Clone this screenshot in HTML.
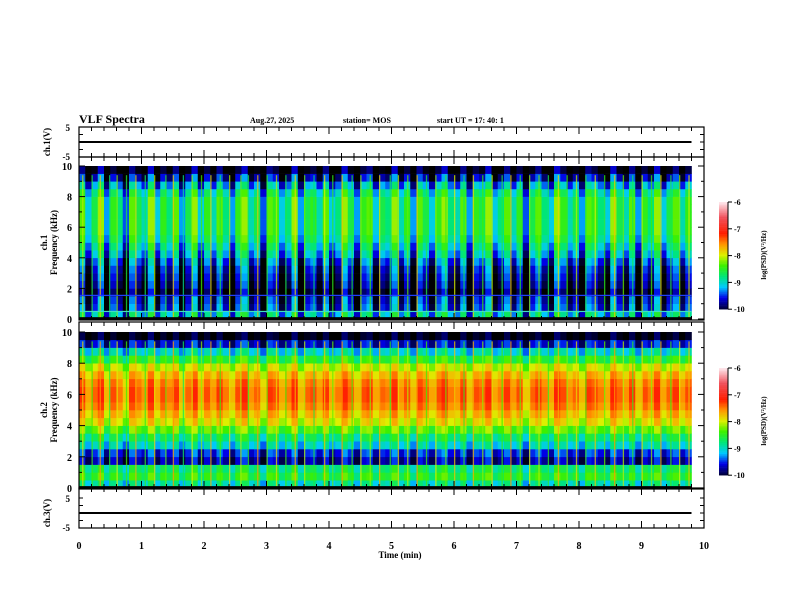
<!DOCTYPE html>
<html><head><meta charset="utf-8"><style>
body{margin:0;background:#fff;}
svg{display:block;font-family:"Liberation Serif",serif;font-weight:bold;}
</style></head><body>
<svg id="c" width="792" height="612" viewBox="0 0 792 612" xmlns="http://www.w3.org/2000/svg"></svg>
<script>
// ---- data ----
const freqBins1 = [0.25,0.75,1.25,1.75,2.25,2.75,3.25,3.75,4.25,4.75,5.25,5.75,6.25,6.75,7.25,7.75,8.25,8.75,9.25,9.75];
const profile1 = [-9.2,-9.7,-9.8,-10.2,-10.0,-9.9,-9.8,-9.6,-9.3,-9.1,-8.9,-8.8,-8.8,-8.8,-8.8,-8.8,-9.0,-9.4,-9.9,-10.3];
const profile2 = [-9.0,-8.6,-8.8,-9.8,-9.6,-9.1,-8.8,-8.4,-8.0,-7.8,-7.6,-7.5,-7.5,-7.6,-7.8,-8.1,-8.6,-9.1,-9.7,-10.2];
const timeOffsets = [0.3,-0.2,0.1,0.4,-0.3,0.2,0.0,-0.4,0.3,0.1,-0.1,0.4,-0.2,0.2,0.0,0.3,-0.3,0.1,0.4,-0.2,0.2,-0.1,0.3,0.0,-0.3,0.2,0.4,-0.1,0.1,-0.4,0.3,0.2,-0.2,0.0,0.4,-0.3,0.1,0.2,-0.1,0.3,-0.2,0.0,0.4,0.1,-0.3,0.2,0.3,-0.2,0.1,0.0,0.4,-0.1,0.2,-0.3,0.3,0.1,-0.2,0.2,0.4,0.0,-0.1,0.3,-0.3,0.2,0.1,0.4,-0.2,0.0,0.3,-0.1,0.2,-0.4,0.1,0.3,0.0,-0.2,0.4,0.2,-0.1,0.1,-0.3,0.3,0.2,0.0,-0.2,0.4,0.1,-0.1,0.3,-0.3,0.2,0.0,0.4,-0.2,0.1,0.3,-0.1,0.2];
const streakTimes = [0.05,0.2,0.33,0.48,0.6,0.75,0.9,1.05,1.2,1.38,1.5,1.66,1.8,1.95,2.1,2.25,2.4,2.58,2.7,2.85,3.0,3.15,3.3,3.45,3.6,3.75,3.92,4.05,4.2,4.36,4.5,4.65,4.8,4.97,5.1,5.25,5.4,5.55,5.7,5.86,6.0,6.15,6.3,6.45,6.6,6.76,6.9,7.05,7.2,7.35,7.5,7.66,7.8,7.95,8.1,8.25,8.4,8.56,8.7,8.85,9.0,9.15,9.3,9.46,9.6,9.75];
const streakLevels = [-7.5,-8,-7.2,-8.2,-7.6,-8,-7.3,-8.1,-7.5,-7.9,-7.2,-8.3,-7.6,-7.8,-7.3,-8,-7.5,-7.7,-8.1,-7.2,-7.9,-7.5,-8,-7.3,-7.7,-8.2,-7.4,-7.9,-7.2,-8,-7.6,-7.8,-7.3,-8.1,-7.5,-7.7,-7.2,-8,-7.6,-7.9,-7.4,-8.1,-7.3,-7.8,-7.5,-8,-7.2,-7.9,-7.6,-7.7,-8.1,-7.3,-7.8,-7.5,-8,-7.4,-7.9,-7.2,-7.7,-8.1,-7.5,-7.8,-7.3,-8,-7.6,-7.4];
const xTicks = [0,1,2,3,4,5,6,7,8,9,10];
const fTicks = [0,2,4,6,8,10];
const cbTicks = [-6,-7,-8,-9,-10];
const dataEnd = 9.8;

// ---- helpers ----
const svg = document.getElementById('c');
const NS = 'http://www.w3.org/2000/svg';
function mk(tag, attrs, parent){const e=document.createElementNS(NS,tag);for(const k in attrs)e.setAttribute(k,attrs[k]);(parent||svg).appendChild(e);return e;}
const X0=79,X1=704;
const xs = t => X0 + (X1-X0)*t/10;
const panels = [{top:166,bot:319,ftop:157,prof:profile1,cb:202,amp:1.6,sOff:-0.6},{top:332,bot:488,ftop:322,prof:profile2,cb:368,amp:0.8,sOff:-0.4}];
function cmap(v){
  const stops=[[-10.2,[0,0,0]],[-10,[0,0,60]],[-9.6,[0,0,230]],[-9.2,[0,200,255]],[-8.8,[0,230,120]],[-8.4,[60,240,0]],[-8.0,[220,240,0]],[-7.6,[255,150,0]],[-7.2,[255,30,0]],[-6.6,[240,80,90]],[-6.0,[255,240,245]]];
  if(v<=stops[0][0])return 'rgb(0,0,0)';
  for(let i=1;i<stops.length;i++){if(v<=stops[i][0]){const a=stops[i-1],b=stops[i],f=(v-a[0])/(b[0]-a[0]);return 'rgb('+a[1].map((c,j)=>Math.round(c+(b[1][j]-c)*f)).join(',')+')';}}
  return 'rgb(255,240,245)';
}

// header
let t;
t=mk('text',{x:79,y:123,'font-size':12}); t.textContent='VLF Spectra';

t=mk('text',{x:250,y:123,'font-size':8}); t.textContent='Aug.27, 2025';

t=mk('text',{x:343,y:123,'font-size':8}); t.textContent='station= MOS';

t=mk('text',{x:437,y:123,'font-size':8}); t.textContent='start  UT  =   17: 40: 1';


// spectrograms
const nCols = timeOffsets.length, colW = dataEnd/nCols;
panels.forEach((p,pi)=>{
  const g=mk('g',{});
  
  
  const fy = f => p.bot - (p.bot-p.top)*f/10;
  for(let c=0;c<nCols;c++){
    for(let r=0;r<freqBins1.length;r++){
      const f=freqBins1[r];
      const v=p.prof[r]+timeOffsets[c]*p.amp;
      const y0=fy(f+0.25), y1=fy(f-0.25);
      const rc=mk('rect',{x:xs(c*colW),y:y0,width:xs((c+1)*colW)-xs(c*colW)+0.3,height:y1-y0+0.3,fill:cmap(v)},g);
      
      
    }
  }
  streakTimes.forEach((st,i)=>{
    const l=mk('rect',{x:xs(st),y:fy(9.4),width:1.3,height:fy(0)-fy(9.4),fill:cmap(streakLevels[i]+p.sOff),opacity:0.75},g);
    
    
  });
  if(pi==0){
    const h=mk('rect',{x:X0,y:fy(0.5)-0.5,width:xs(dataEnd)-X0,height:1.2,fill:'#40e0c0'},g);
    
    const h2=mk('rect',{x:X0,y:fy(1.55)-0.5,width:xs(dataEnd)-X0,height:1.2,fill:'#2040ff'},g);
    
  }
  const bs=mk('rect',{x:X0,y:fy(0.12),width:xs(dataEnd)-X0,height:fy(0)-fy(0.12)+1,fill:'#000'},g);
  

  // frame & ticks
  const fr=mk('rect',{x:X0,y:p.ftop,width:X1-X0,height:p.bot-p.ftop+1,fill:'none',stroke:'#000','stroke-width':1.2});
  
  for(let f=0;f<=10;f++){
    mk('line',{x1:X0,x2:X0+(f%2==0?6:3),y1:fy(f),y2:fy(f),stroke:'#000'});
    mk('line',{x1:X1,x2:X1-(f%2==0?6:3),y1:fy(f),y2:fy(f),stroke:'#000'});
  }
  fTicks.forEach(f=>{const tt=mk('text',{x:72,y:fy(f)+4,'font-size':10,'text-anchor':'end'});tt.textContent=f;
    });
  const yl=mk('text',{transform:`translate(47,${(p.top+p.bot)/2}) rotate(-90)`,'font-size':9,'text-anchor':'middle'});
  yl.textContent='ch.'+(pi+1); 
  const yl2=mk('text',{transform:`translate(57,${(p.top+p.bot)/2}) rotate(-90)`,'font-size':9,'text-anchor':'middle'});
  yl2.textContent='Frequency (kHz)'; 

  // colorbar
  const cg=mk('g',{});
  const cy = v => p.cb + (-6-v)*26.8;
  for(let v=-10;v<-6;v+=0.05){mk('rect',{x:719,y:cy(v+0.05),width:9,height:1.6,fill:cmap(v)},cg);}
  mk('line',{x1:728,x2:728,y1:cy(-6),y2:cy(-10),stroke:'#000'},cg);
  cbTicks.forEach(v=>{mk('line',{x1:728,x2:732,y1:cy(v),y2:cy(v),stroke:'#000'},cg);
    const ct=mk('text',{x:734,y:cy(v)+3,'font-size':8},cg);ct.textContent=v;
    });
  const cl=mk('text',{transform:`translate(766,${p.cb+53}) rotate(-90)`,'font-size':7,'text-anchor':'middle'},cg);
  cl.textContent='log(PSD)(V²/Hz)';
});

// waveform panels
[{top:127,bot:157,name:'ch.1(V)',yl:142},{top:488,bot:528,name:'ch.3(V)',yl:513}].forEach((w,wi)=>{
  const fr=mk('rect',{x:X0,y:w.top,width:X1-X0,height:w.bot-w.top,fill:'none',stroke:'#000','stroke-width':1.2});
  
  const ln=mk('line',{x1:X0,x2:xs(dataEnd),y1:w.yl,y2:w.yl,stroke:'#000','stroke-width':2});
  
  const t5 = wi==0?w.top:498;
  [['5',t5+4],['-5',w.bot+3]].forEach(a=>{const tt=mk('text',{x:70,y:a[1],'font-size':9,'text-anchor':'end'});tt.textContent=a[0];
    });
  const yl=mk('text',{transform:`translate(50,${(t5+w.bot)/2}) rotate(-90)`,'font-size':9,'text-anchor':'middle'});
  yl.textContent=w.name;
  for(let v=0;v<=4;v++){const y=t5+(w.bot-t5)*v/4;
    mk('line',{x1:X0,x2:X0+4,y1:y,y2:y,stroke:'#000'});mk('line',{x1:X1,x2:X1-4,y1:y,y2:y,stroke:'#000'});}
});

// time ticks on all horizontal borders
const borders=[[127,1],[157,-1],[157,1],[320,-1],[322,1],[488,-1],[488,1],[528,-1]];
borders.forEach(b=>{
  for(let i=0;i<=50;i++){const x=xs(i*0.2);const len=(i%5==0)?7:4;
    mk('line',{x1:x,x2:x,y1:b[0],y2:b[0]+b[1]*len,stroke:'#000'});}
});
xTicks.forEach(v=>{const tt=mk('text',{x:xs(v),y:549,'font-size':10,'text-anchor':'middle'});tt.textContent=v;
  });
t=mk('text',{x:400,y:558,'font-size':9,'text-anchor':'middle'});t.textContent='Time  (min)';

</script>
</body></html>
